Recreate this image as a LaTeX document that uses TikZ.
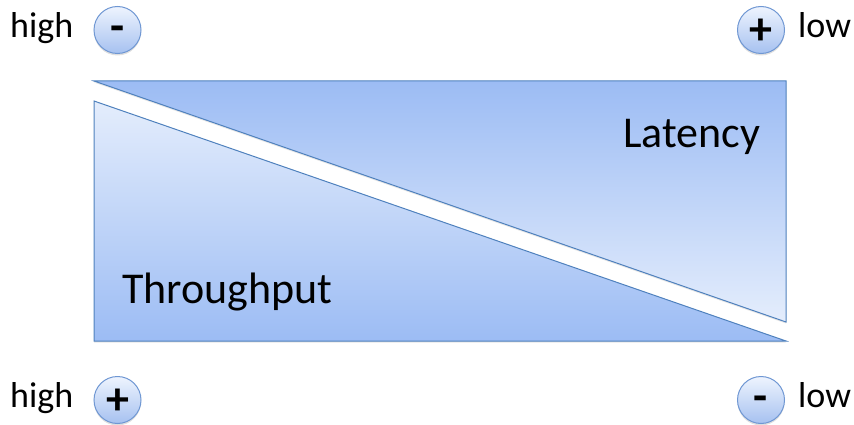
\documentclass[tikz,border=0pt]{standalone}
\usepackage{fontspec}
\setmainfont{Carlito}
\usetikzlibrary{shadows}
\definecolor{tridark}{HTML}{9CBCF4}
\definecolor{trilight}{HTML}{E4EDFC}
\definecolor{triedge}{HTML}{4F81BD}
\definecolor{circtop}{HTML}{EEF4FE}
\definecolor{circbot}{HTML}{A6C1F0}
\definecolor{circedge}{HTML}{6F97D3}
\newcommand{\minussign}{\smash{\raisebox{-0.26em}{-}}}
\newcommand{\plussign}{\raisebox{0pt}[\dimexpr\height+4pt\relax][0pt]{+}}
\begin{document}
\begin{tikzpicture}[x=1pt,y=-1pt,
  tri/.style={draw=triedge, line width=1pt, line join=miter,
    drop shadow={opacity=0.2, shadow xshift=0pt, shadow yshift=-1.5pt}},
  sign/.style={circle, minimum size=47pt, inner sep=0pt, draw=circedge,
    line width=1pt, top color=circtop, bottom color=circbot,
    font=\bfseries\fontsize{46}{46}\selectfont,
    drop shadow={opacity=0.25, shadow xshift=0pt, shadow yshift=-2pt}},
  lbl/.style={font=\fontsize{36}{36}\selectfont, inner sep=0pt},
  big/.style={font=\fontsize{44}{44}\selectfont, inner sep=0pt}]
\useasboundingbox (0,0) rectangle (854,425);
% triangles
\path[tri, top color=tridark, bottom color=trilight]
  (94,81) coordinate (ua) -- (786,81) coordinate (ub) -- (786,322) coordinate (uc) -- cycle;
\path[tri, top color=trilight, bottom color=tridark]
  (94,101) coordinate (la) -- (94,341) coordinate (lb) -- (786,341) coordinate (lc) -- cycle;
\node[big, anchor=base west] (lat) at (623,147) {Latency};
\node[big, anchor=base west] (thr) at (122,303) {Throughput};
% top row
\node[lbl, anchor=base west] (hiT) at (10,38) {high};
\node[sign] (mT) at (117.5,30) {\minussign};
\node[sign] (pT) at (761,30) {\plussign};
\node[lbl, anchor=base west] (loT) at (798,38) {low};
% bottom row
\node[lbl, anchor=base west] (hiB) at (10,407) {high};
\node[sign] (pB) at (117.5,400) {\plussign};
\node[sign] (mB) at (761,400) {\minussign};
\node[lbl, anchor=base west] (loB) at (798,407) {low};
\end{tikzpicture}
\end{document}
